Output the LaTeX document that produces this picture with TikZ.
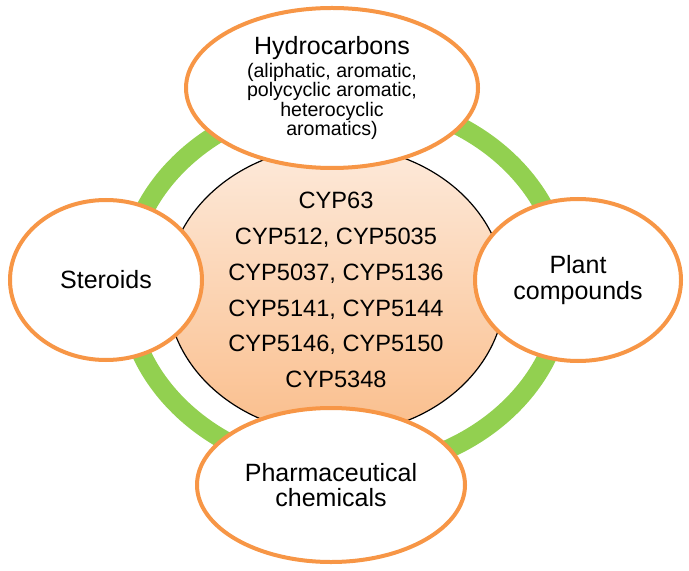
\documentclass[tikz,border=0pt]{standalone}
\usepackage{fontspec}
\setmainfont{Liberation Sans}
\usetikzlibrary{shapes.geometric}
\definecolor{ringgreen}{RGB}{146,208,80}
\definecolor{blobedge}{RGB}{247,150,70}
\definecolor{coretop}{RGB}{253,234,219}
\definecolor{corebottom}{RGB}{250,190,140}
\newcommand{\subline}{\fontsize{9.8}{9.8}\selectfont}
\begin{document}
\begin{tikzpicture}[x=0.5pt, y=-0.5pt,
            every node/.style = {inner sep = 0pt,
                                outer sep = 0pt,
                                align     = center},
            ring/.style       = {draw       = ringgreen,
                                line width = 9.5pt},
            core/.style       = {ellipse,
                                draw          = black,
                                line width    = 0.6pt,
                                top color     = coretop,
                                bottom color  = corebottom,
                                minimum width  = 169pt,
                                minimum height = 144pt,
                                font = \fontsize{11.8}{17.9}\selectfont},
            blob/.style       = {ellipse,
                                draw       = blobedge,
                                line width = 2pt,
                                fill       = white,
                                font = \fontsize{12.5}{12.8}\selectfont}
            ]
            \useasboundingbox (0,0) rectangle (689,571);
            \path (345,285) coordinate (ringc);

            \draw [ring] (ringc) ellipse [x radius = 219, y radius = 186];

            \node [core] (cyp) at (336,290)
                {CYP63\\ CYP512, CYP5035\\ CYP5037, CYP5136\\
                 CYP5141, CYP5144\\ CYP5146, CYP5150\\ CYP5348};

            \node [blob, minimum width = 146pt, minimum height = 80pt,
                   font = \fontsize{12.5}{9.8}\selectfont]
                (hydro) at (332,88)
                {Hydrocarbons\\[1.7pt]\subline (aliphatic, aromatic,\\
                 \subline polycyclic aromatic,\\ \subline heterocyclic\\
                 \subline aromatics)};
            \node [blob, minimum width = 96pt, minimum height = 80pt]
                (steroid) at (106,280) {Steroids};
            \node [blob, minimum width = 103pt, minimum height = 81pt]
                (plant) at (578,280) {Plant\\ compounds};
            \node [blob, minimum width = 134pt, minimum height = 77pt]
                (pharma) at (331,485) {Pharmaceutical\\ chemicals};
\end{tikzpicture}
\end{document}
